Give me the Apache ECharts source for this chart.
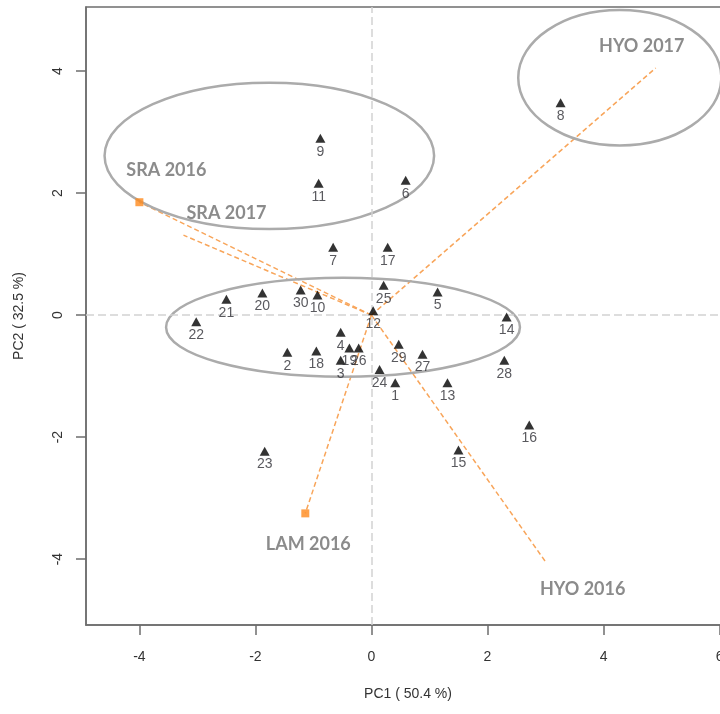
<!DOCTYPE html>
<html>
<head>
<meta charset="utf-8">
<title>PCA biplot</title>
<script src="https://cdn.jsdelivr.net/npm/echarts@6/dist/echarts.min.js"></script>
<style>
html, body { margin: 0; padding: 0; background: #fff; }
#main { width: 720px; height: 714px; }
</style>
</head>
<body>
<div id="main"></div>
<script>
// sample scores (PC1, PC2)
var sampleIds = ['1','2','3','4','5','6','7','8','9','10','11','12','13','14','15',
    '16','17','18','19','20','21','22','23','24','25','26','27','28','29','30'];
var pc1 = [0.41, -1.45, -0.53, -0.53, 1.14, 0.59, -0.66, 3.26, -0.88, -0.93, -0.91, 0.03, 1.31, 2.33, 1.50,
    2.72, 0.28, -0.95, -0.38, -1.88, -2.50, -3.02, -1.84, 0.14, 0.21, -0.22, 0.88, 2.29, 0.47, -1.22];
var pc2 = [-1.11, -0.61, -0.74, -0.28, 0.38, 2.21, 1.11, 3.48, 2.90, 0.33, 2.16, 0.07, -1.11, -0.03, -2.21,
    -1.80, 1.11, -0.59, -0.54, 0.36, 0.26, -0.11, -2.23, -0.89, 0.49, -0.54, -0.64, -0.74, -0.48, 0.41];

// loading vectors (site / year)
var loadNames = ['SRA 2016', 'SRA 2017', 'HYO 2017', 'LAM 2016', 'HYO 2016'];
var loadPc1 = [-4.00, -3.24, 4.90, -1.14, 3.02];
var loadPc2 = [1.85, 1.31, 4.05, -3.25, -4.07];
var loadMarked = ['SRA 2016', 'LAM 2016'];

// group ellipses: centre and half axes in PC units
var ellCx = [-1.76, 4.28, -0.49];
var ellCy = [2.61, 3.89, -0.20];
var ellRx = [2.84, 1.75, 3.05];
var ellRy = [1.20, 1.11, 0.81];

var xTicks = [-4, -2, 0, 2, 4, 6];
var yTicks = [-4, -2, 0, 2, 4];

// label offsets for the loading names (pixels)
var loadLabelOffset = {
    'SRA 2016': [27, -32],
    'SRA 2017': [43, -22],
    'HYO 2017': [-14, -22],
    'LAM 2016': [3, 31],
    'HYO 2016': [36, 26]
};

var axisColor = '#6e6e6e';
var tickFont = { color: '#333', fontSize: 14, fontFamily: 'Liberation Sans' };

var myChart = echarts.init(document.getElementById('main'));

var points = sampleIds.map(function (id, i) { return [pc1[i], pc2[i], id]; });
var ellipses = ellCx.map(function (c, i) { return [c, ellCy[i], ellRx[i], ellRy[i]]; });

var arrowSeries = loadNames.map(function (n, i) {
    return {
        type: 'line',
        data: [[0, 0], [loadPc1[i], loadPc2[i]]],
        symbol: 'none',
        silent: true,
        z: 2,
        lineStyle: { color: '#f8a55a', width: 1.5, type: [5, 3] }
    };
});

var option = {
    animation: false,
    grid: {
        left: 86, right: -10, top: 7, bottom: 89,
        outerBoundsMode: 'none',
        show: true, borderColor: axisColor, borderWidth: 1.5
    },
    xAxis: {
        type: 'value', min: -4.92, max: 6.18,
        name: 'PC1 ( 50.4 %)', nameLocation: 'middle', nameGap: 62,
        nameTextStyle: { color: '#333', fontSize: 14, fontFamily: 'Liberation Sans' },
        axisLine: { show: true, onZero: false, lineStyle: { color: axisColor, width: 1.5 } },
        axisTick: { show: true, length: 10, customValues: xTicks, lineStyle: { color: axisColor, width: 1.5 } },
        axisLabel: Object.assign({ customValues: xTicks, margin: 25 }, tickFont),
        splitLine: { show: false }
    },
    yAxis: {
        type: 'value', min: -5.08, max: 5.05,
        name: 'PC2 ( 32.5 %)', nameLocation: 'middle', nameGap: 60, nameRotate: 90,
        nameTextStyle: { color: '#333', fontSize: 14, fontFamily: 'Liberation Sans' },
        axisLine: { show: true, onZero: false, lineStyle: { color: axisColor, width: 1.5 } },
        axisTick: { show: true, length: 10, customValues: yTicks, lineStyle: { color: axisColor, width: 1.5 } },
        axisLabel: Object.assign({ customValues: yTicks, margin: 21, rotate: 90 }, tickFont),
        splitLine: { show: false }
    },
    series: arrowSeries.concat([
        {
            type: 'custom',
            data: ellipses,
            silent: true,
            z: 3,
            renderItem: function (params, api) {
                var c = api.coord([api.value(0), api.value(1)]);
                var s = api.size([api.value(2), api.value(3)]);
                return {
                    type: 'ellipse',
                    shape: { cx: c[0], cy: c[1], rx: s[0], ry: s[1] },
                    style: { fill: 'none', stroke: '#ababab', lineWidth: 2.5 }
                };
            }
        },
        {
            type: 'scatter',
            data: points,
            symbol: 'triangle',
            symbolSize: [10, 9],
            z: 5,
            itemStyle: { color: '#000' },
            label: {
                show: true, position: 'bottom', distance: 2,
                formatter: function (p) { return p.value[2]; },
                color: '#2f2f36', fontSize: 14, fontFamily: 'Liberation Sans'
            },
            markLine: {
                silent: true, symbol: 'none',
                label: { show: false },
                lineStyle: { color: '#d2d2d2', width: 1.5, type: [8, 4] },
                data: [{ xAxis: 0 }, { yAxis: 0 }]
            }
        },
        {
            type: 'scatter',
            z: 6,
            silent: true,
            data: loadNames.map(function (n, i) {
                var marked = loadMarked.indexOf(n) >= 0;
                return {
                    value: [loadPc1[i], loadPc2[i], n],
                    symbolSize: marked ? 8 : 0,
                    label: { offset: loadLabelOffset[n] }
                };
            }),
            symbol: 'rect',
            itemStyle: { color: '#ff8a1c' },
            label: {
                show: true, position: 'inside',
                formatter: function (p) { return p.value[2]; },
                color: '#6e6e6e', fontSize: 18, fontWeight: 'bold', fontFamily: 'Lato'
            }
        }
    ])
};

myChart.setOption(option);
</script>
</body>
</html>
